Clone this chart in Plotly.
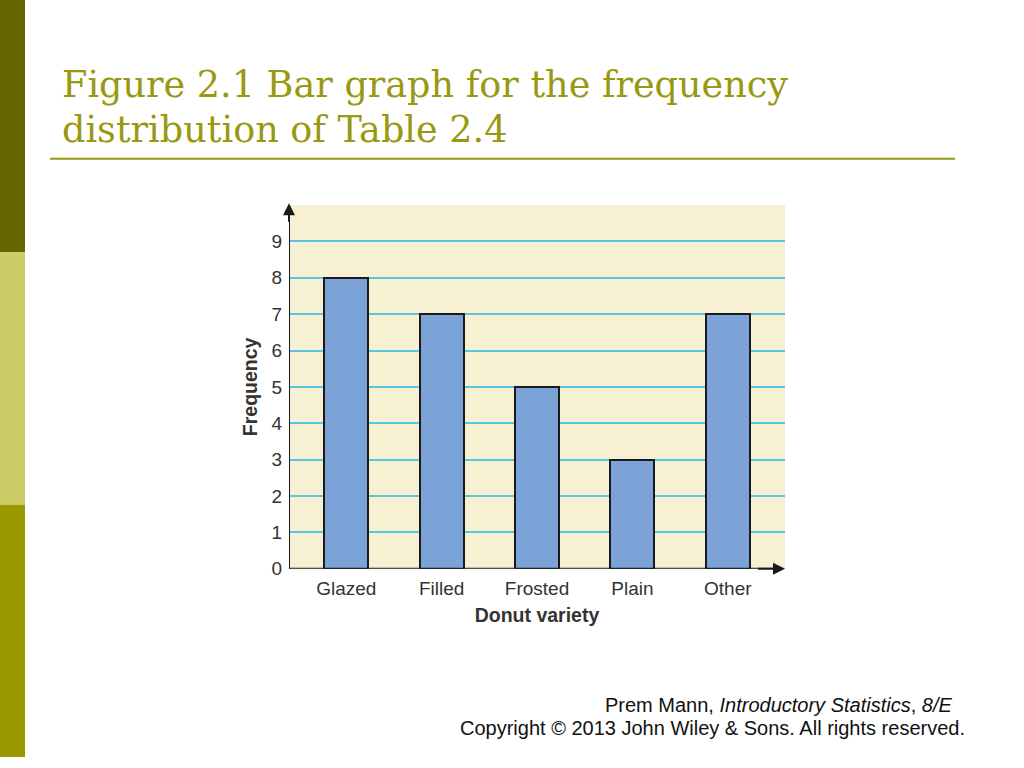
import plotly.graph_objects as go

categories = ["Glazed", "Filled", "Frosted", "Plain", "Other"]
frequencies = [8, 7, 5, 3, 7]
y_ticks = [0, 1, 2, 3, 4, 5, 6, 7, 8, 9]

W, H = 1024, 768
def px(x):
    return x / W
def py(y):
    return 1 - y / H

fig = go.Figure()
fig.add_trace(go.Bar(
    x=list(range(len(categories))), y=frequencies, width=0.46,
    marker=dict(color="#7BA3D8", line=dict(color="#1a1a1a", width=2)),
    hoverinfo="skip", showlegend=False,
))

axis_font = dict(family="Liberation Sans, Arial, sans-serif", size=19, color="#333333")
fig.update_layout(
    width=W, height=H, autosize=False,
    margin=dict(l=0, r=0, t=0, b=0),
    paper_bgcolor="white", plot_bgcolor="#F8F0D2",
    font=dict(family="Liberation Sans, Arial, sans-serif", color="#333333", size=19),
    bargap=0,
    xaxis=dict(
        domain=[px(289), px(785)], range=[-0.6, 4.6],
        tickmode="array", tickvals=list(range(len(categories))), ticktext=categories,
        showgrid=False, zeroline=False, showline=False, ticks="",
        ticklabelstandoff=6,
        tickfont=axis_font,
        title=dict(text="<b>Donut variety</b>", font=dict(size=19.5, color="#333333"), standoff=10),
        fixedrange=True,
    ),
    yaxis=dict(
        domain=[py(577), py(208)], range=[0, 10],
        tickmode="array", tickvals=y_ticks, ticktext=[str(v) for v in y_ticks],
        showgrid=True, gridcolor="#5CC6E2", gridwidth=2,
        zeroline=False, showline=False, ticks="",
        ticklabelstandoff=6,
        tickfont=axis_font,
        title=dict(text="<b>Frequency</b>", font=dict(size=19.5, color="#333333"), standoff=8),
        fixedrange=True,
    ),
)

# axis lines with arrows
fig.add_shape(type="line", xref="x", yref="y", x0=-0.6, x1=-0.6, y0=0, y1=9.8,
              line=dict(color="#1a1a1a", width=2))
fig.add_shape(type="line", xref="x", yref="y", x0=-0.6, x1=4.58, y0=0, y1=0,
              line=dict(color="#1a1a1a", width=2))
fig.add_annotation(x=-0.6, y=10.05, ax=-0.6, ay=9.5, xref="x", yref="y", axref="x", ayref="y",
                   text="", showarrow=True, arrowhead=2, arrowsize=1.2, arrowwidth=2, arrowcolor="#1a1a1a")
fig.add_annotation(x=4.6, y=0, ax=4.3, ay=0, xref="x", yref="y", axref="x", ayref="y",
                   text="", showarrow=True, arrowhead=2, arrowsize=1.2, arrowwidth=2, arrowcolor="#1a1a1a")

# slide decoration: left color bars
for y0, y1, c in [(0, 256, "#666600"), (256, 512, "#CCCC66"), (512, 768, "#999900")]:
    fig.add_shape(type="rect", xref="paper", yref="paper", x0=0, x1=px(25), y0=py(y1), y1=py(y0),
                  fillcolor=c, line=dict(width=0), layer="below")

# title
title_font = dict(family="DejaVu Serif, serif", size=36.6, color="#999911")
fig.add_annotation(xref="paper", yref="paper", x=px(60), y=py(86), xanchor="left", yanchor="middle",
                   text="Figure 2.1 Bar graph for the frequency", showarrow=False, font=title_font)
fig.add_annotation(xref="paper", yref="paper", x=px(60), y=py(131), xanchor="left", yanchor="middle",
                   text="distribution of Table 2.4", showarrow=False, font=title_font)
fig.add_shape(type="line", xref="paper", yref="paper", x0=px(50), x1=px(955), y0=py(161), y1=py(161),
              line=dict(color="#999911", width=2))

# footer
foot_font = dict(family="Liberation Sans, Arial, sans-serif", size=20, color="#111111")
fig.add_annotation(xref="paper", yref="paper", x=px(954), y=py(715), xanchor="right", yanchor="middle",
                   text="Prem Mann, <i>Introductory Statistics</i>, <i>8/E</i>", showarrow=False, font=foot_font)
fig.add_annotation(xref="paper", yref="paper", x=px(967), y=py(739), xanchor="right", yanchor="middle",
                   text="Copyright © 2013 John Wiley & Sons. All rights reserved.", showarrow=False, font=foot_font)

fig.write_html("out.html", config={"displayModeBar": False},
               post_script="document.body.style.margin='0';document.body.style.overflow='hidden';")
